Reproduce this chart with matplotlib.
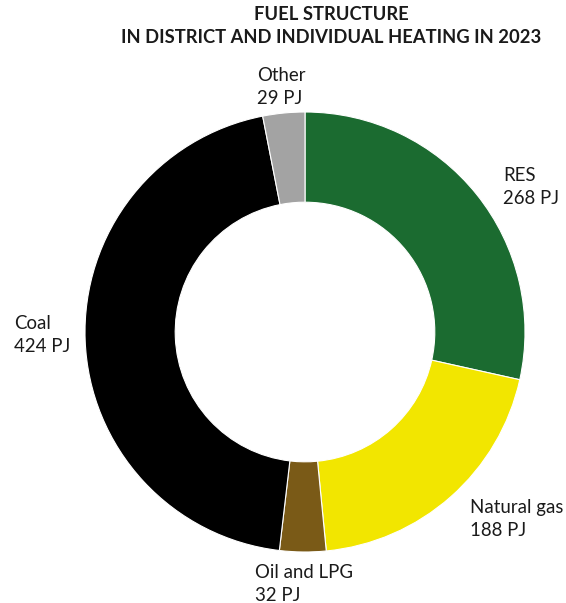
import matplotlib
matplotlib.use("Agg")
import matplotlib.pyplot as plt

plt.rcParams['font.family'] = ['Lato', 'DejaVu Sans']

# fuel structure data, PJ
fuels = ["RES", "Natural gas", "Oil and LPG", "Coal", "Other"]
values = [268, 188, 32, 424, 29]
colors = ["#1b6b30", "#f2e600", "#7a5a17", "#000000", "#a3a3a3"]

W, H = 566, 603
fig = plt.figure(figsize=(W / 100, H / 100), dpi=100)
fig.patch.set_facecolor("white")

cx, cy, r = 305, 332, 220
ax = fig.add_axes([(cx - r) / W, (H - cy - r) / H, 2 * r / W, 2 * r / H])
ax.pie(values, colors=colors, startangle=90, counterclock=False, radius=1,
       wedgeprops=dict(width=0.41, edgecolor="white", linewidth=0.8))
ax.set_xlim(-1, 1)
ax.set_ylim(-1, 1)
ax.axis("off")

fig.text(331 / W, 1 - 26 / H, "FUEL STRUCTURE\nIN DISTRICT AND INDIVIDUAL HEATING IN 2023",
         ha="center", va="center", fontsize=13.2, fontweight="bold",
         linespacing=1.4, color="#1a1a1a")

# label anchor points (left edge, vertical centre) in pixels
label_pos = {
    "RES": (503, 187),
    "Natural gas": (470, 519),
    "Oil and LPG": (255, 584),
    "Coal": (14, 335),
    "Other": (257, 87),
}
for name, val in zip(fuels, values):
    x, y = label_pos[name]
    fig.text(x / W, 1 - y / H, f"{name}\n{val} PJ", ha="left", va="center",
             fontsize=13.4, linespacing=1.4, color="#1a1a1a")

fig.savefig("out.png", dpi=100)
